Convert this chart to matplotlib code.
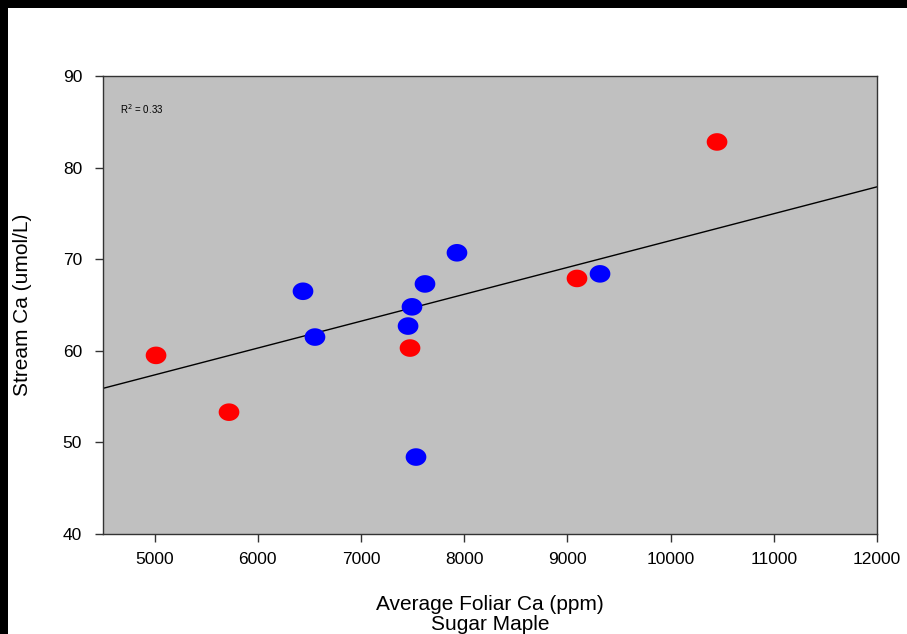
import numpy as np
import matplotlib
matplotlib.use("Agg")
import matplotlib.pyplot as plt
from matplotlib.path import Path
from matplotlib.patches import Rectangle

# Data
red_x = [5014, 5721, 7475, 9093, 10450]
red_y = [59.5, 53.3, 60.3, 67.9, 82.8]
blue_x = [6438, 6554, 7456, 7494, 7620, 7930, 7533, 9316]
blue_y = [66.5, 61.5, 62.7, 64.8, 67.3, 70.7, 48.4, 68.4]
line_x = [4500, 12000]
line_y = [55.9, 77.9]
x_ticks = [5000, 6000, 7000, 8000, 9000, 10000, 11000, 12000]
y_ticks = [40, 50, 60, 70, 80, 90]
r2_text = "R$^2$ = 0.33"

plt.rcParams['font.family'] = ['Liberation Sans', 'DejaVu Sans']

fig = plt.figure(figsize=(9.07, 6.34), dpi=100)
fig.patch.set_facecolor('white')
W, H = 907, 634
# black frame at top and left
fig.patches.append(Rectangle((0, 1 - 8 / H), 1, 8 / H, transform=fig.transFigure,
                             facecolor='black', edgecolor='none', zorder=0))
fig.patches.append(Rectangle((0, 0), 8 / W, 1, transform=fig.transFigure,
                             facecolor='black', edgecolor='none', zorder=0))

left, right, top, bottom = 103, 877, 76, 534
ax = fig.add_axes([left / W, 1 - bottom / H, (right - left) / W, (bottom - top) / H])
ax.set_facecolor('#C0C0C0')

t = np.linspace(0, 2 * np.pi, 60)
ell = Path(np.column_stack([np.cos(t), 0.85 * np.sin(t)]), closed=True)

ax.plot(line_x, line_y, color='black', lw=1.0, zorder=2)
ax.scatter(red_x, red_y, marker=ell, s=14.9 ** 2, color='#FF0000', edgecolors='none', zorder=3)
ax.scatter(blue_x, blue_y, marker=ell, s=14.9 ** 2, color='#0000FF', edgecolors='none', zorder=3)

ax.set_xlim(4500, 12000)
ax.set_ylim(40, 90)
ax.set_xticks(x_ticks)
ax.set_yticks(y_ticks)
for s in ax.spines.values():
    s.set_color('#333333')
    s.set_linewidth(1.0)
ax.tick_params(direction='out', length=6, width=1, color='#333333', labelsize=12.5, pad=9)
ax.tick_params(axis='x', pad=7)

ax.text(0.022, 0.927, r2_text, transform=ax.transAxes, fontsize=7, va='center', ha='left')

ax.set_xlabel("Average Foliar Ca (ppm)\nSugar Maple", fontsize=15, linespacing=1.05)
ax.xaxis.set_label_coords(0.5, -0.133)
ax.set_ylabel("Stream Ca (umol/L)", fontsize=15)
ax.yaxis.set_label_coords(-0.092, 0.5)

fig.savefig("out.png", dpi=100, facecolor=fig.get_facecolor())
